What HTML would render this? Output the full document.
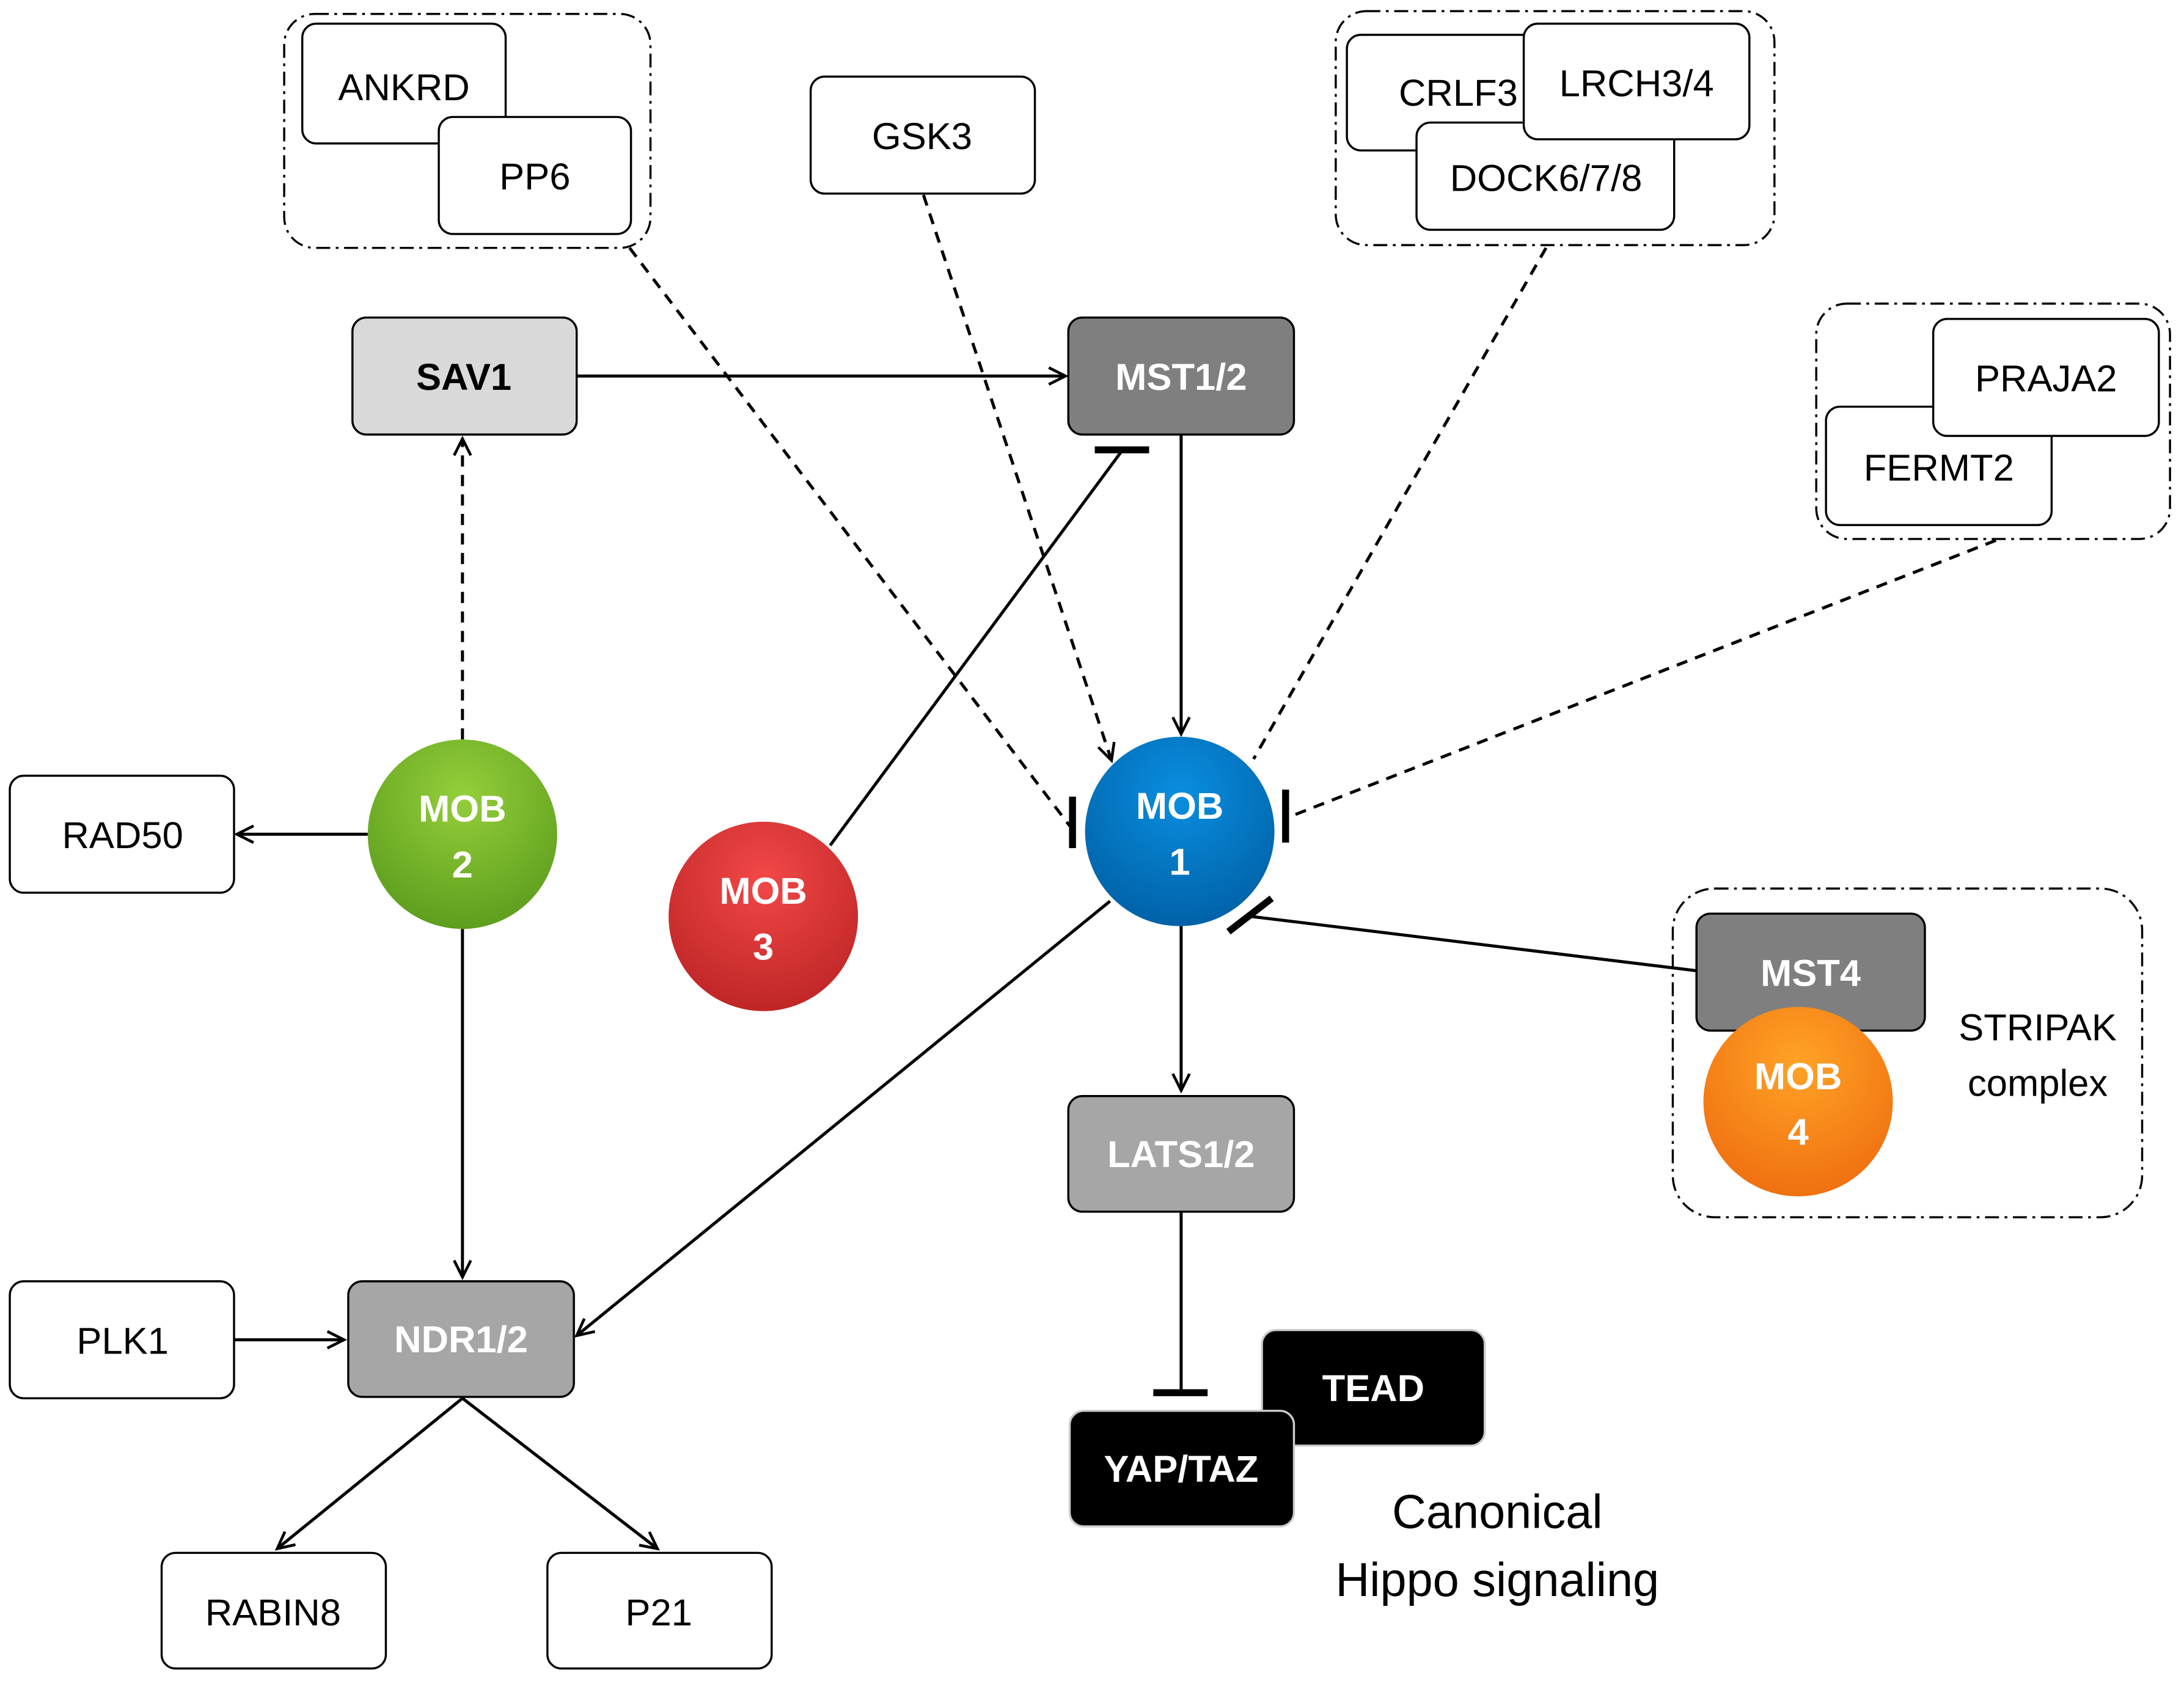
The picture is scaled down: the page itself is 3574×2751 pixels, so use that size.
<!DOCTYPE html>
<html><head><meta charset="utf-8"><style>
html,body{margin:0;padding:0;background:#fff;}
svg{display:block;}
text{font-family:"Liberation Sans",sans-serif;}
</style></head><body>
<svg width="3574" height="2751" viewBox="0 0 1568 1207" xmlns="http://www.w3.org/2000/svg">
<defs>
<marker id="a" markerWidth="16" markerHeight="16" refX="14" refY="8" orient="auto" markerUnits="userSpaceOnUse">
<path d="M2,2 L14,8 L2,14" fill="none" stroke="#000" stroke-width="2"/></marker>
<radialGradient id="gb" cx="50%" cy="30%" r="70%"><stop offset="0" stop-color="#0a8ee0"/><stop offset="1" stop-color="#0062a8"/></radialGradient>
<radialGradient id="gg" cx="50%" cy="30%" r="70%"><stop offset="0" stop-color="#94cf3a"/><stop offset="1" stop-color="#5e9e1e"/></radialGradient>
<radialGradient id="gr" cx="50%" cy="30%" r="70%"><stop offset="0" stop-color="#f24848"/><stop offset="1" stop-color="#c02626"/></radialGradient>
<radialGradient id="go" cx="50%" cy="30%" r="70%"><stop offset="0" stop-color="#ffa326"/><stop offset="1" stop-color="#f07010"/></radialGradient>
</defs>
<g fill="none" stroke="#000" stroke-width="1.5" stroke-dasharray="10,4,2,4">
<rect x="204" y="10" width="263" height="168" rx="22"/>
<rect x="959" y="8" width="315" height="168" rx="22"/>
<rect x="1304" y="218" width="254" height="169" rx="22"/>
<rect x="1201" y="638" width="337" height="236" rx="30"/>
</g>
<!-- connectors -->
<g stroke="#000" stroke-width="2.2" fill="none">
<line x1="414" y1="270" x2="765" y2="270" marker-end="url(#a)"/>
<line x1="848" y1="312" x2="848" y2="527" marker-end="url(#a)"/>
<line x1="332" y1="531" x2="332" y2="315" stroke-dasharray="8,6" marker-end="url(#a)"/>
<line x1="264" y1="599" x2="170" y2="599" marker-end="url(#a)"/>
<line x1="332" y1="667" x2="332" y2="917" marker-end="url(#a)"/>
<line x1="596" y1="607" x2="806" y2="323"/>
<line x1="786" y1="323" x2="825" y2="323" stroke-width="5"/>
<line x1="452" y1="178" x2="768" y2="593" stroke-dasharray="8,6"/>
<line x1="770" y1="572" x2="770" y2="609" stroke-width="5"/>
<line x1="663" y1="140" x2="798" y2="546" stroke-dasharray="8,6" marker-end="url(#a)"/>
<line x1="1110" y1="178" x2="900" y2="545" stroke-dasharray="8,6"/>
<line x1="1433" y1="388" x2="927" y2="586" stroke-dasharray="8,6"/>
<line x1="923" y1="567" x2="923" y2="605" stroke-width="5"/>
<line x1="1218" y1="697" x2="898" y2="658"/>
<line x1="882" y1="669" x2="913" y2="645" stroke-width="5"/>
<line x1="848" y1="665" x2="848" y2="783" marker-end="url(#a)"/>
<line x1="797" y1="647" x2="414" y2="959" marker-end="url(#a)"/>
<line x1="168" y1="962" x2="247" y2="962" marker-end="url(#a)"/>
<line x1="332" y1="1004" x2="199" y2="1112" marker-end="url(#a)"/>
<line x1="332" y1="1004" x2="472" y2="1112" marker-end="url(#a)"/>
<line x1="848" y1="870" x2="848" y2="1000"/>
<line x1="828" y1="1000" x2="867" y2="1000" stroke-width="5"/>
</g>
<!-- boxes -->
<g stroke="#000" stroke-width="1.5">
<rect x="217" y="17" width="146" height="86" rx="10" fill="#fff"/>
<rect x="315" y="84" width="138" height="84" rx="10" fill="#fff"/>
<rect x="582" y="55" width="161" height="84" rx="10" fill="#fff"/>
<rect x="967" y="25" width="143" height="83" rx="10" fill="#fff"/>
<rect x="1017" y="88" width="185" height="77" rx="10" fill="#fff"/>
<rect x="1094" y="17" width="162" height="83" rx="10" fill="#fff"/>
<rect x="1311" y="292" width="162" height="85" rx="10" fill="#fff"/>
<rect x="1388" y="229" width="162" height="84" rx="10" fill="#fff"/>
<rect x="253" y="228" width="161" height="84" rx="10" fill="#d9d9d9"/>
<rect x="767" y="228" width="162" height="84" rx="10" fill="#7f7f7f"/>
<rect x="7" y="557" width="161" height="84" rx="10" fill="#fff"/>
<rect x="767" y="787" width="162" height="83" rx="10" fill="#a6a6a6"/>
<rect x="250" y="920" width="162" height="83" rx="10" fill="#a6a6a6"/>
<rect x="7" y="920" width="161" height="84" rx="10" fill="#fff"/>
<rect x="116" y="1115" width="161" height="83" rx="10" fill="#fff"/>
<rect x="393" y="1115" width="161" height="83" rx="10" fill="#fff"/>
<rect x="906" y="955" width="160" height="83" rx="10" fill="#000" stroke="#ccc"/>
<rect x="768" y="1013" width="161" height="83" rx="10" fill="#000" stroke="#ccc"/>
<rect x="1218" y="656" width="164" height="84" rx="10" fill="#7f7f7f"/>
</g>
<circle cx="847" cy="597" r="68" fill="url(#gb)"/>
<circle cx="332" cy="599" r="68" fill="url(#gg)"/>
<circle cx="548" cy="658" r="68" fill="url(#gr)"/>
<circle cx="1291" cy="791" r="68" fill="url(#go)"/>
<g font-size="27" text-anchor="middle" fill="#000">
<text x="290" y="72">ANKRD</text>
<text x="384" y="136">PP6</text>
<text x="662" y="107">GSK3</text>
<text x="1047" y="76">CRLF3</text>
<text x="1175" y="69">LRCH3/4</text>
<text x="1110" y="137">DOCK6/7/8</text>
<text x="1469" y="281">PRAJA2</text>
<text x="1392" y="345">FERMT2</text>
<text x="88" y="609">RAD50</text>
<text x="88" y="972">PLK1</text>
<text x="196" y="1167">RABIN8</text>
<text x="473" y="1167">P21</text>
</g>
<g font-size="27" text-anchor="middle" font-weight="bold">
<text x="333" y="280" fill="#000">SAV1</text>
<text x="848" y="280" fill="#fff">MST1/2</text>
<text x="848" y="838" fill="#fff">LATS1/2</text>
<text x="331" y="971" fill="#fff">NDR1/2</text>
<text x="986" y="1006" fill="#fff">TEAD</text>
<text x="848" y="1064" fill="#fff">YAP/TAZ</text>
<text x="1300" y="708" fill="#fff">MST4</text>
<text x="847" y="588" fill="#fff">MOB</text><text x="847" y="628" fill="#fff">1</text>
<text x="332" y="590" fill="#fff">MOB</text><text x="332" y="630" fill="#fff">2</text>
<text x="548" y="649" fill="#fff">MOB</text><text x="548" y="689" fill="#fff">3</text>
<text x="1291" y="782" fill="#fff">MOB</text><text x="1291" y="822" fill="#fff">4</text>
</g>
<g text-anchor="middle" fill="#000">
<text x="1463" y="747" font-size="27">STRIPAK</text>
<text x="1463" y="787" font-size="27">complex</text>
<text x="1075" y="1097" font-size="34">Canonical</text>
<text x="1075" y="1146" font-size="34">Hippo signaling</text>
</g>
</svg>
</body></html>
